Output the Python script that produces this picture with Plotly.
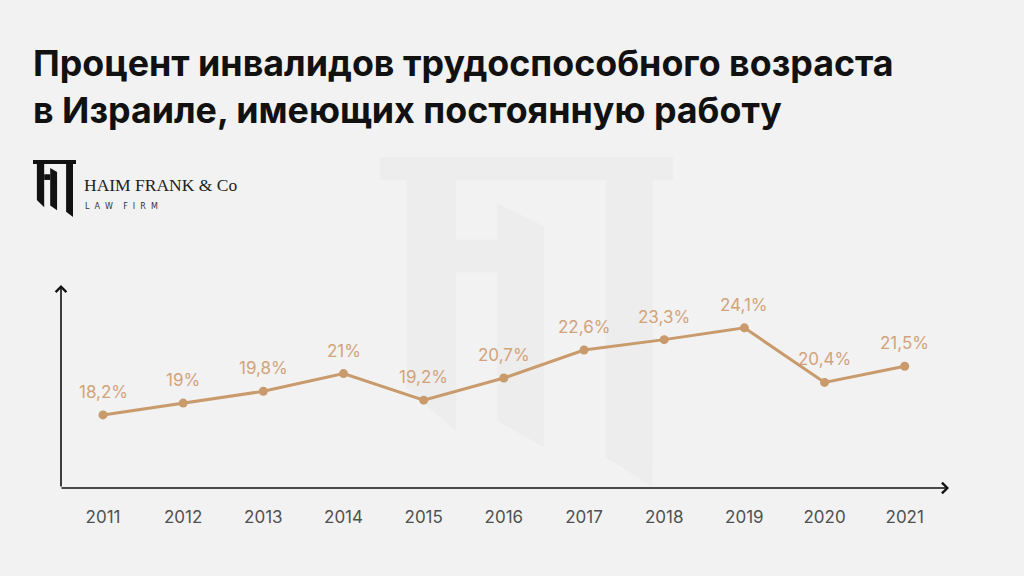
import plotly.graph_objects as go

# ---- data ----
years = ["2011", "2012", "2013", "2014", "2015", "2016", "2017", "2018", "2019", "2020", "2021"]
share = [18.2, 19.0, 19.8, 21.0, 19.2, 20.7, 22.6, 23.3, 24.1, 20.4, 21.5]
labels = [f"{v:g}".replace(".", ",") + "%" for v in share]

title_text = "Процент инвалидов трудоспособного возраста<br>в Израиле, имеющих постоянную работу"

# ---- layout geometry (pixels) ----
W, H = 1024, 576
ML, MR, MT, MB = 61, 76, 285, 88
PW, PH = W - ML - MR, H - MT - MB


def X(px):
    return (px - ML) / PW


def Y(py):
    return (H - MB - py) / PH


BG = "#F2F2F2"
LINE = "#C99A6C"
LABEL = "#D2A37B"

fig = go.Figure()
fig.add_trace(go.Scatter(
    x=years, y=share, mode="lines+markers",
    line=dict(color=LINE, width=3),
    marker=dict(color=LINE, size=9),
    cliponaxis=False, hoverinfo="skip",
))

# ---- monogram (unit box polygons) ----
mono = [
    [(0, 0), (1, 0), (1, 0.07), (0, 0.07)],
    [(0.09, 0), (0.26, 0), (0.26, 0.83), (0.09, 0.70)],
    [(0.26, 0.25), (0.40, 0.25), (0.40, 0.35), (0.26, 0.35)],
    [(0.40, 0.14), (0.56, 0.21), (0.56, 0.88), (0.40, 0.80)],
    [(0.77, 0), (0.93, 0), (0.93, 1.0), (0.77, 0.91)],
]


def mono_shapes(x0, y0, w, h, color):
    out = []
    for poly in mono:
        pts = [(X(x0 + u * w), Y(y0 + v * h)) for u, v in poly]
        path = "M " + " L ".join(f"{a:.5f},{b:.5f}" for a, b in pts) + " Z"
        out.append(dict(type="path", xref="paper", yref="paper", path=path,
                        fillcolor=color, line=dict(width=0), layer="below"))
    return out


shapes = mono_shapes(380, 157, 293, 330, "#EDEDED") + mono_shapes(33, 160, 43, 57, "#111111")

annotations = [
    dict(xref="paper", yref="paper", x=X(31), y=Y(39), xanchor="left", yanchor="top",
         text="<b>" + title_text + "</b>", showarrow=False, align="left",
         font=dict(family="Inter", size=35.8, color="#111111")),
    dict(xref="paper", yref="paper", x=X(82), y=Y(185), xanchor="left", yanchor="middle",
         text="HAIM FRANK &amp; Co", showarrow=False,
         font=dict(family="Liberation Serif", size=17.5, color="#222222")),
    dict(xref="paper", yref="paper", x=X(83), y=Y(206), xanchor="left", yanchor="middle",
         text="L  A  W    F  I  R  M", showarrow=False,
         font=dict(family="DejaVu Sans", size=8, color="#333333")),
    # axis arrows
    dict(xref="paper", yref="paper", x=X(949), y=0, ax=-(949 - 60), ay=0,
         axref="pixel", ayref="pixel", text="", showarrow=True,
         arrowhead=4, arrowsize=1.3, arrowwidth=1.6, arrowcolor="#111111"),
    dict(xref="paper", yref="paper", x=0, y=1, ax=0, ay=PH,
         axref="pixel", ayref="pixel", text="", showarrow=True,
         arrowhead=4, arrowsize=1.3, arrowwidth=1.6, arrowcolor="#111111"),
]

# value labels, placed from the data through the axes (category index on x)
for i, (v, lab) in enumerate(zip(share, labels)):
    annotations.append(dict(x=i, y=v, xref="x", yref="y", text=lab, showarrow=False,
                            yshift=23, font=dict(family="Inter", size=17, color=LABEL)))

fig.update_layout(
    width=W, height=H,
    margin=dict(l=ML, r=MR, t=MT, b=MB),
    paper_bgcolor=BG, plot_bgcolor="rgba(0,0,0,0)",
    showlegend=False,
    shapes=shapes, annotations=annotations,
    xaxis=dict(type="category", range=[-0.524, 10.54], showgrid=False, zeroline=False,
               showline=False, ticks="outside", ticklen=14, tickcolor="rgba(0,0,0,0)",
               tickfont=dict(family="Inter", size=17, color="#505050"), fixedrange=True),
    yaxis=dict(range=[13.25, 27.0], showgrid=False, zeroline=False, showline=False,
               showticklabels=False, fixedrange=True),
)

fig.write_html("out.html", config={"displayModeBar": False},
               post_script="document.body.style.margin='0';document.body.style.background='#F2F2F2';")
